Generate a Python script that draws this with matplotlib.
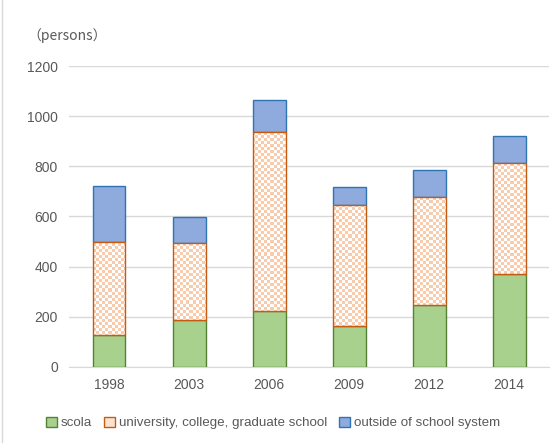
#stacked bar of persons by school type
import numpy as np
import matplotlib
matplotlib.use('Agg')
import matplotlib.pyplot as plt
from matplotlib.patches import Patch

years = ['1998', '2003', '2006', '2009', '2012', '2014']
scola = [128, 187, 223, 165, 246, 372]
university = [372, 308, 713, 480, 431, 442]
outside = [220, 102, 130, 71, 107, 107]

plt.rcParams['font.family'] = ['Liberation Sans', 'Noto Sans CJK JP']

fig = plt.figure(figsize=(5.57, 4.43), dpi=100)
ax = fig.add_axes([0.124, 0.1716, 0.862, 0.6794])

x = np.arange(len(years))
w = 0.41
bottom2 = np.array(scola)
bottom3 = bottom2 + np.array(university)

ax.bar(x, scola, w, color='#A9D18E', edgecolor='#548235', linewidth=1, zorder=3)
uni_bars = ax.bar(x, university, w, bottom=bottom2, color='white', edgecolor='none',
                  linewidth=0, zorder=2)
ax.bar(x, outside, w, bottom=bottom3, color='#8FAADC', edgecolor='#2E75B6', linewidth=1, zorder=3)

# checker pattern inside the university bars
rows, cols = 100, 160
checker = (np.add.outer(np.arange(rows), np.arange(cols)) % 2).astype(float)
cmap = matplotlib.colors.ListedColormap(['white', '#F8CBAD'])
for b in uni_bars:
    im = ax.imshow(checker, extent=(-0.5, 5.5, 0, 1200), cmap=cmap, interpolation='nearest',
                   aspect='auto', zorder=3.5)
    im.set_clip_path(b)
# edges on top
ax.bar(x, university, w, bottom=bottom2, fill=False, edgecolor='#C55A11', linewidth=1, zorder=5)

ax.set_xlim(-0.5, 5.5)
ax.set_ylim(0, 1200)
ax.set_yticks(range(0, 1201, 200))
ax.set_xticks(x)
ax.set_xticklabels(years)
ax.tick_params(length=0, labelsize=10, colors='#595959', pad=8)
ax.grid(axis='y', color='#D9D9D9', linewidth=1, zorder=0)
for s in ['top', 'right', 'left']:
    ax.spines[s].set_visible(False)
ax.spines['bottom'].set_color('#D9D9D9')

fig.text(0.05, 0.92, '（persons）', fontsize=10, color='#595959', ha='left', va='center',
         family=['Noto Sans CJK JP', 'Liberation Sans'])

handles = [Patch(facecolor='#A9D18E', edgecolor='#548235', label='scola'),
           Patch(facecolor='#FBE3D3', edgecolor='#C55A11', label='university, college, graduate school'),
           Patch(facecolor='#8FAADC', edgecolor='#2E75B6', label='outside of school system')]
fig.legend(handles=handles, loc='center', bbox_to_anchor=(0.49, 0.045), ncol=3, frameon=False,
           fontsize=9.6, handlelength=0.8, handleheight=0.8, handletextpad=0.3, columnspacing=0.9,
           labelcolor='#595959')

fig.add_artist(plt.Line2D([0.004, 0.004], [0, 1], color='#D9D9D9', linewidth=1))

fig.savefig('out.png', dpi=100)
